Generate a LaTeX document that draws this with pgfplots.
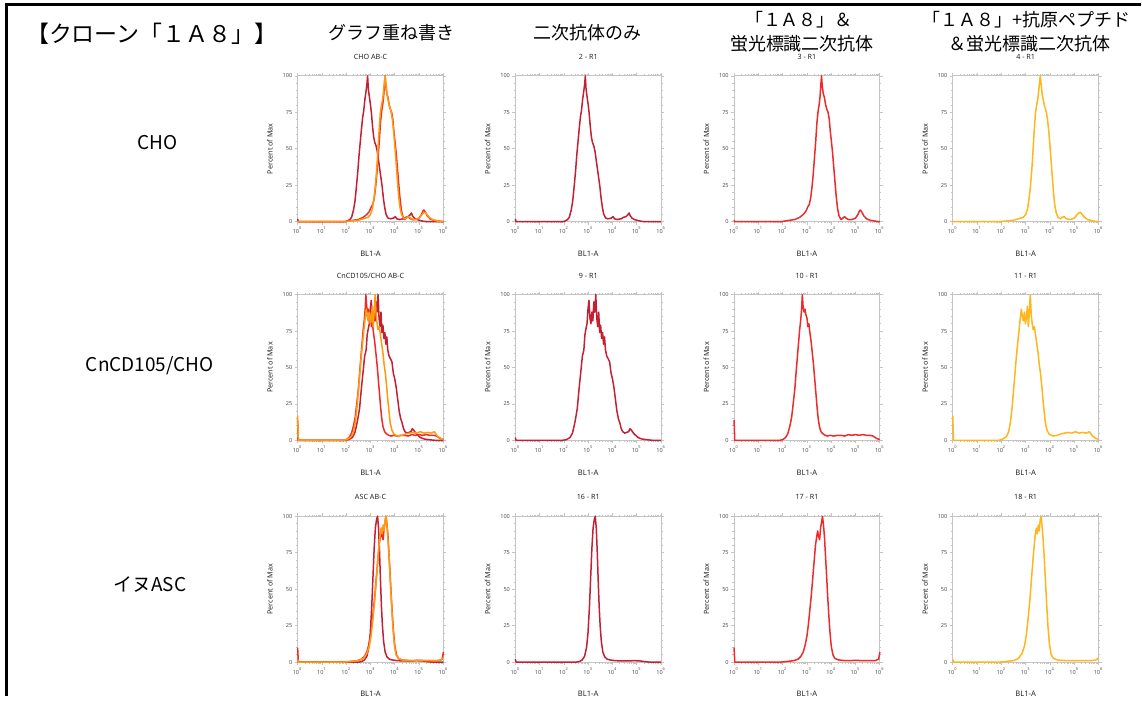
\documentclass[border=0pt]{standalone}
\usepackage{fontspec}
\setmainfont{Noto Sans CJK JP}
\newfontfamily\plotfont{Noto Sans}
\usepackage{pgfplots}
\usepackage{pgfplotstable}
\pgfplotsset{compat=1.18}

\newdimen\pxu \pxu=0.5pt

\definecolor{secred}{HTML}{C42034}
\definecolor{abred}{HTML}{EE2B2B}
\definecolor{pepgold}{HTML}{FFB61E}
\definecolor{pepor}{HTML}{FF9A10}
\definecolor{axgray}{HTML}{C4C4C4}
\definecolor{lblgray}{HTML}{505050}

% x = decade exponent (10^e), y = percent of max
\pgfplotstableread{
e y
0 2
0.03 0
1.95 0
2.05 0.5
2.15 1.5
2.22 3
2.3 8
2.36 14
2.42 24
2.48 35
2.53 46
2.58 55
2.63 64
2.68 72
2.72 76
2.77 84
2.82 90
2.85 94
2.88 100
2.91 91
2.95 86
3.0 80
3.04 74
3.08 66
3.13 58
3.18 54
3.23 52
3.28 48
3.33 42
3.38 36
3.43 30
3.48 24
3.53 16
3.58 10
3.64 5
3.72 2.5
3.82 2
3.95 2.5
4.02 3.5
4.08 2
4.2 1.5
4.35 2
4.45 3
4.55 3.5
4.62 4.5
4.68 6
4.73 4
4.8 2.5
4.9 1.5
5.05 0.8
5.2 0.2
5.4 0
6 0
}\choSec

\pgfplotstableread{
e y
0 1
0.03 0
1.9 0
2.1 0.5
2.3 1
2.5 1.5
2.7 3
2.85 5
2.95 7
3.03 10
3.1 12
3.16 17
3.21 24
3.26 33
3.31 44
3.36 55
3.41 68
3.46 76
3.5 80
3.54 86
3.58 96
3.6 100
3.63 93
3.67 88
3.72 85
3.77 80
3.82 77
3.87 75
3.92 70
3.96 62
4.0 56
4.05 48
4.1 38
4.15 28
4.2 18
4.26 9
4.32 4
4.4 1.5
4.48 2.5
4.55 3.5
4.6 2.5
4.7 1.5
4.85 1.5
5.0 2.5
5.1 5
5.16 7.5
5.2 8
5.26 6.5
5.34 4
5.45 2
5.6 1
5.85 0.3
6 0
}\choAb

\pgfplotstableread{
e y
0 0.5
0.03 0
1.9 0
2.2 0.5
2.5 1
2.7 2
2.9 3
3.0 5
3.08 9
3.15 17
3.2 25
3.25 35
3.3 48
3.35 62
3.4 74
3.45 80
3.5 84
3.55 92
3.6 100
3.64 94
3.68 87
3.73 83
3.78 79
3.84 76
3.9 70
3.95 62
4.0 52
4.05 41
4.1 30
4.15 19
4.2 11
4.26 6
4.33 3
4.42 2
4.5 3
4.58 3.5
4.68 2
4.85 1.5
5.0 2.5
5.1 4.5
5.18 6
5.25 6.5
5.32 5
5.42 3
5.55 1.5
5.75 0.5
6 0
}\choPep

\pgfplotstableread{
e y
0 2
0.03 0
1.9 0
2.1 0.5
2.25 2
2.35 5
2.42 10
2.48 15
2.55 22
2.62 35
2.7 48
2.76 58
2.82 62
2.86 72
2.9 76
2.95 80
2.99 90
3.03 96
3.07 84
3.11 80
3.15 88
3.19 82
3.23 95
3.27 88
3.31 100
3.35 84
3.39 78
3.43 88
3.47 74
3.51 79
3.55 70
3.59 74
3.63 66
3.67 71
3.71 62
3.76 58
3.82 56
3.88 54
3.94 46
4.0 42
4.06 36
4.12 28
4.18 20
4.24 15
4.3 12
4.36 8
4.42 6
4.5 5
4.58 5.5
4.66 6
4.72 8
4.78 7
4.86 5
4.95 3.5
5.05 2
5.2 1
5.4 0.5
5.7 0
6 0
}\cdSec

\pgfplotstableread{
e y
0 14
0.03 0
1.85 0
2.0 0.5
2.12 2
2.22 5
2.3 10
2.37 16
2.44 26
2.5 35
2.56 48
2.61 58
2.66 68
2.7 76
2.74 82
2.78 90
2.81 100
2.84 92
2.88 88
2.92 90
2.96 86
3.0 84
3.04 78
3.08 80
3.12 74
3.17 68
3.22 60
3.27 52
3.32 42
3.37 32
3.42 22
3.47 14
3.52 9
3.58 6
3.66 4.5
3.75 3.5
3.85 3
3.95 3.5
4.1 3
4.25 3.5
4.4 3.5
4.55 3
4.7 4
4.85 3.5
5.0 4
5.15 3.5
5.3 4
5.45 3.5
5.6 3.5
5.72 3
5.85 1.5
6 0.5
}\cdAb

\pgfplotstableread{
e y
0 17
0.03 0
1.85 0
2.0 0.5
2.12 1.5
2.22 3
2.3 6
2.37 12
2.44 22
2.5 34
2.56 46
2.62 58
2.68 68
2.73 76
2.78 84
2.82 90
2.86 86
2.9 82
2.95 88
2.99 80
3.03 84
3.07 92
3.11 78
3.15 88
3.19 100
3.23 86
3.27 80
3.31 76
3.36 78
3.41 72
3.46 66
3.51 60
3.56 52
3.61 46
3.66 38
3.71 28
3.76 20
3.81 12
3.88 7
3.96 4.5
4.05 3.5
4.15 3
4.3 3.5
4.45 4.5
4.6 5
4.75 5.5
4.9 5
5.05 6
5.2 5
5.35 5.5
5.5 5
5.62 6
5.75 3
5.88 1.5
6 0.5
}\cdPep

\pgfplotstableread{
e y
0 2
0.03 0
2.5 0
2.65 0.5
2.75 1.5
2.85 4
2.93 10
2.99 20
3.05 38
3.1 58
3.15 78
3.2 92
3.25 98
3.29 100
3.33 92
3.37 76
3.41 56
3.45 38
3.49 25
3.54 14
3.6 7
3.68 3.5
3.78 2
3.9 1.5
4.1 1
4.5 0.8
4.9 1
5.15 0.8
5.35 0.3
5.55 0
6 0
}\ascSec

\pgfplotstableread{
e y
0 10
0.03 0
1.9 0
2.2 0.5
2.45 1
2.63 2
2.75 4
2.85 7
2.93 12
3.0 18
3.06 26
3.12 36
3.18 46
3.24 58
3.3 70
3.35 80
3.4 86
3.44 90
3.48 86
3.52 84
3.56 92
3.6 96
3.64 100
3.68 94
3.72 86
3.76 74
3.8 62
3.85 46
3.9 32
3.95 20
4.0 11
4.07 5
4.15 2.5
4.3 1.5
4.6 1
5.0 1.2
5.4 1
5.8 1
5.95 2
6 7
}\ascAb

\pgfplotstableread{
e y
0 2
0.03 0
1.9 0
2.2 0.5
2.5 1
2.7 2.5
2.85 6
2.95 11
3.03 19
3.1 30
3.17 42
3.23 55
3.29 68
3.35 80
3.4 88
3.44 92
3.48 88
3.52 94
3.56 90
3.6 98
3.64 100
3.68 92
3.72 84
3.77 70
3.82 54
3.87 38
3.92 24
3.98 12
4.05 5
4.15 2.5
4.3 1.5
4.7 1
5.2 1
5.7 1
5.9 1.5
6 3
}\ascPep

\pgfplotsset{
  facs/.style={
    scale only axis, width=146\pxu, height=146\pxu, anchor=north west,
    xmin=0, xmax=6, ymin=0, ymax=100, clip=false,
    axis line style={axgray, line width=0.5pt},
    every tick/.style={axgray, line width=0.4pt},
    tick align=outside, major tick length=3\pxu, minor tick length=1.6\pxu,
    xtick={0,1,2,3,4,5,6},
    xticklabels={10\textsuperscript{0},10\textsuperscript{1},10\textsuperscript{2},10\textsuperscript{3},10\textsuperscript{4},10\textsuperscript{5},10\textsuperscript{6}},
    minor xtick={0.301,0.477,0.602,0.699,0.778,0.845,0.903,0.954,
      1.301,1.477,1.602,1.699,1.778,1.845,1.903,1.954,
      2.301,2.477,2.602,2.699,2.778,2.845,2.903,2.954,
      3.301,3.477,3.602,3.699,3.778,3.845,3.903,3.954,
      4.301,4.477,4.602,4.699,4.778,4.845,4.903,4.954,
      5.301,5.477,5.602,5.699,5.778,5.845,5.903,5.954},
    ytick={0,25,50,75,100}, yticklabels={0,25,50,75,100},
    minor y tick num=4,
    tick label style={font=\plotfont\fontsize{2.8}{3}\selectfont, text=lblgray,
      inner sep=1pt},
    xlabel={BL1-A},
    xlabel style={font=\plotfont\fontsize{3.8}{4}\selectfont, text=black!85,
      at={(axis description cs:0.5,-0.22)}, anchor=center},
    ylabel={Percent of Max},
    ylabel style={font=\plotfont\fontsize{3.6}{4}\selectfont, text=black!85,
      at={(axis description cs:-0.19,0.5)}, anchor=center},
    every axis plot/.append style={no marks, line width=0.75pt, line join=round},
  },
}
\tikzset{ttl/.style={font=\plotfont\fontsize{3.6}{4}\selectfont, text=black!85}}
\newcommand\paneltitle[1]{\node[ttl] at (rel axis cs:0.5,1.13) {#1};}

\begin{document}
\begin{tikzpicture}
\path (0,0) rectangle (1142\pxu,-697\pxu);
\draw[line width=1.5pt] (7\pxu,-697\pxu) -- (7\pxu,-5\pxu) -- (1142\pxu,-5\pxu);

% headers
\node[anchor=west, font=\fontsize{11.5}{13}\selectfont] at (19\pxu,-34\pxu) {【クローン「１Ａ８」】};
\node[font=\fontsize{9}{11}\selectfont] at (392\pxu,-33\pxu) {グラフ重ね書き};
\node[font=\fontsize{9}{11}\selectfont] at (588\pxu,-33\pxu) {二次抗体のみ};
\node[font=\fontsize{9}{11}\selectfont] at (800\pxu,-20\pxu) {「１Ａ８」＆};
\node[font=\fontsize{9}{11}\selectfont] at (803\pxu,-44\pxu) {蛍光標識二次抗体};
\node[font=\fontsize{9}{11}\selectfont] at (1028\pxu,-20\pxu) {「１Ａ８」+抗原ペプチド};
\node[font=\fontsize{9}{11}\selectfont] at (1031\pxu,-44\pxu) {＆蛍光標識二次抗体};

% row labels
\node[font=\fontsize{9.5}{12}\selectfont] at (158\pxu,-143\pxu) {CHO};
\node[font=\fontsize{9.5}{12}\selectfont] at (150\pxu,-366\pxu) {CnCD105/CHO};
\node[font=\fontsize{9.5}{12}\selectfont] at (150\pxu,-585\pxu) {イヌASC};

% row 1: CHO
\begin{axis}[facs, at={(298\pxu,-76\pxu)}]
\addplot[secred] table[x=e,y=y]{\choSec};
\addplot[abred] table[x=e,y=y]{\choAb};
\addplot[pepor] table[x=e,y=y]{\choPep};
\paneltitle{CHO AB-C}
\end{axis}
\begin{axis}[facs, at={(516\pxu,-76\pxu)}]
\addplot[secred] table[x=e,y=y]{\choSec};
\paneltitle{2 - R1}
\end{axis}
\begin{axis}[facs, at={(735\pxu,-76\pxu)}]
\addplot[abred] table[x=e,y=y]{\choAb};
\paneltitle{3 - R1}
\end{axis}
\begin{axis}[facs, at={(954\pxu,-76\pxu)}]
\addplot[pepgold] table[x=e,y=y]{\choPep};
\paneltitle{4 - R1}
\end{axis}

% row 2: CnCD105/CHO
\begin{axis}[facs, at={(298\pxu,-295\pxu)}]
\addplot[secred] table[x=e,y=y]{\cdSec};
\addplot[abred] table[x=e,y=y]{\cdAb};
\addplot[pepor] table[x=e,y=y]{\cdPep};
\paneltitle{CnCD105/CHO AB-C}
\end{axis}
\begin{axis}[facs, at={(516\pxu,-295\pxu)}]
\addplot[secred] table[x=e,y=y]{\cdSec};
\paneltitle{9 - R1}
\end{axis}
\begin{axis}[facs, at={(735\pxu,-295\pxu)}]
\addplot[abred] table[x=e,y=y]{\cdAb};
\paneltitle{10 - R1}
\end{axis}
\begin{axis}[facs, at={(954\pxu,-295\pxu)}]
\addplot[pepgold] table[x=e,y=y]{\cdPep};
\paneltitle{11 - R1}
\end{axis}

% row 3: ASC
\begin{axis}[facs, at={(298\pxu,-517\pxu)}]
\addplot[secred] table[x=e,y=y]{\ascSec};
\addplot[abred] table[x=e,y=y]{\ascAb};
\addplot[pepor] table[x=e,y=y]{\ascPep};
\paneltitle{ASC AB-C}
\end{axis}
\begin{axis}[facs, at={(516\pxu,-517\pxu)}]
\addplot[secred] table[x=e,y=y]{\ascSec};
\paneltitle{16 - R1}
\end{axis}
\begin{axis}[facs, at={(735\pxu,-517\pxu)}]
\addplot[abred] table[x=e,y=y]{\ascAb};
\paneltitle{17 - R1}
\end{axis}
\begin{axis}[facs, at={(954\pxu,-517\pxu)}]
\addplot[pepgold] table[x=e,y=y]{\ascPep};
\paneltitle{18 - R1}
\end{axis}
\end{tikzpicture}
\end{document}
